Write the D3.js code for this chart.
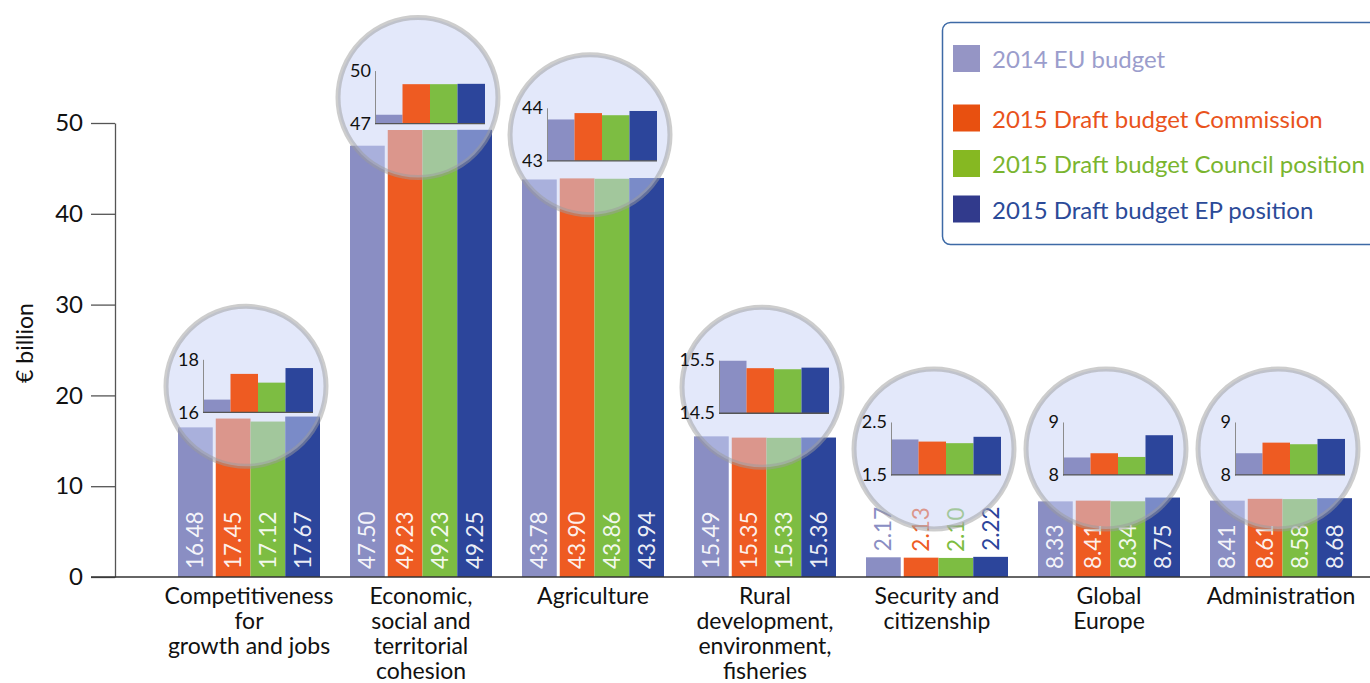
<!DOCTYPE html>
<html>
<head>
<meta charset="utf-8">
<script src="https://cdn.jsdelivr.net/npm/d3@7"></script>
<style>
  body { margin: 0; background: #fff; }
  svg { display: block; font-family: Lato, "Noto Sans", sans-serif; }
</style>
</head>
<body>
<script>
//
// DATA
//
var categories = [
    ["Competitiveness", "for", "growth and jobs"],
    ["Economic,", "social and", "territorial", "cohesion"],
    ["Agriculture"],
    ["Rural", "development,", "environment,", "fisheries"],
    ["Security and", "citizenship"],
    ["Global", "Europe"],
    ["Administration"]
];
var seriesNames = ["2014 EU budget", "2015 Draft budget Commission",
                   "2015 Draft budget Council position", "2015 Draft budget EP position"];
var budget2014 = [16.48, 47.50, 43.78, 15.49, 2.17, 8.33, 8.41];
var commission = [17.45, 49.23, 43.90, 15.35, 2.13, 8.41, 8.61];
var council    = [17.12, 49.23, 43.86, 15.33, 2.10, 8.34, 8.58];
var epPosition = [17.67, 49.25, 43.94, 15.36, 2.22, 8.75, 8.68];
var yTicks = [0, 10, 20, 30, 40, 50];
// zoomed insets: axis range shown in each magnifier
var insetLow  = [16, 47, 43, 14.5, 1.5, 8, 8];
var insetHigh = [18, 50, 44, 15.5, 2.5, 9, 9];

//
// LAYOUT / STYLE
//
var W = 1370, H = 683;
var barColors = ["#8a8ec3", "#ee5b22", "#7dbd42", "#2c459b"];
var keyColors = ["#9595c5", "#e85010", "#86b822", "#313a8c"];
var textColors = ["#9b9dcc", "#e9531c", "#7ab52f", "#2b4a98"];
// level (in € billion) at which each magnifier is centred
var insetLevel = [21.0, 52.8, 48.7, 20.9, 14.1, 14.1, 14.1];

var allSeries = [budget2014, commission, council, epPosition];
var rows = categories.map(function(c, i){
    return {
        i: i,
        lines: c,
        values: allSeries.map(function(s, k){ return {k: k, v: s[i]}; })
    };
});

var svg = d3.select("body").append("svg")
    .attr("width", W).attr("height", H);

var y = d3.scaleLinear().domain([0, 50]).range([577, 123]);
var x0 = d3.scaleBand().domain(d3.range(categories.length))
    .range([163, 1367]).paddingInner(30/172).paddingOuter(15/172);
var x1 = d3.scaleBand().domain(d3.range(4)).range([0, 139]);

function barX(i, k){ return x0(i) + x1(k) + (k > 0 ? 3 : 0); }

//
// BARS
//
var groups = svg.selectAll("g.grp").data(rows).enter().append("g").attr("class", "grp");

groups.selectAll("rect").data(function(d){ return d.values.map(function(v){ return {i: d.i, k: v.k, v: v.v}; }); })
    .enter().append("rect")
    .attr("x", function(d){ return barX(d.i, d.k); })
    .attr("y", function(d){ return y(d.v); })
    .attr("width", x1.bandwidth())
    .attr("height", function(d){ return y(0) - y(d.v); })
    .attr("fill", function(d){ return barColors[d.k]; });

// value labels, vertical
groups.selectAll("text.val").data(function(d){ return d.values.map(function(v){ return {i: d.i, k: v.k, v: v.v}; }); })
    .enter().append("text").attr("class", "val")
    .attr("transform", function(d){
        var cx = barX(d.i, d.k) + x1.bandwidth()/2 + 8;
        var inside = (y(0) - y(d.v)) > 70;
        var yy = inside ? 569 : y(d.v) - 6;
        return "translate(" + cx + "," + yy + ") rotate(-90)";
    })
    .attr("font-size", 22.5)
    .attr("fill", function(d){ return (y(0) - y(d.v)) > 70 ? "#fff" : barColors[d.k]; })
    .attr("fill-opacity", function(d){ return (y(0) - y(d.v)) > 70 ? 0.92 : 1; })
    .text(function(d){ return d.v.toFixed(2); });

//
// AXES
//
var yAxis = svg.append("g").attr("transform", "translate(115,0)")
    .call(d3.axisLeft(y).tickValues(yTicks).tickSize(24).tickSizeOuter(0).tickPadding(8));
yAxis.select(".domain").attr("stroke", "#555").attr("stroke-width", 1.3);
yAxis.selectAll(".tick line").attr("stroke", "#555").attr("stroke-width", 1.3);
yAxis.selectAll(".tick text").attr("font-size", 24).attr("fill", "#111")
    .attr("font-family", "Lato, sans-serif");

svg.append("line")
    .attr("x1", 91).attr("x2", W).attr("y1", y(0)).attr("y2", y(0))
    .attr("stroke", "#333").attr("stroke-width", 1.5);

svg.append("text")
    .attr("transform", "translate(33,343) rotate(-90)")
    .attr("text-anchor", "middle").attr("font-size", 23).attr("fill", "#111")
    .text("€ billion");

// category labels
var catText = svg.selectAll("text.cat").data(rows).enter().append("text")
    .attr("class", "cat")
    .attr("text-anchor", "middle").attr("font-size", 23).attr("fill", "#111");
catText.selectAll("tspan").data(function(d){ return d.lines.map(function(l){ return {l: l, i: d.i}; }); })
    .enter().append("tspan")
    .attr("x", function(d){ return x0(d.i) + x0.bandwidth()/2; })
    .attr("y", function(d, j){ return 604 + j * 25; })
    .text(function(d){ return d.l; });

//
// MAGNIFIER INSETS
//
rows.forEach(function(d){
    var i = d.i;
    var cx = x0(i) + x0.bandwidth()/2 - 3;
    var cy = y(insetLevel[i]);
    var g = svg.append("g").attr("class", "inset");

    g.append("circle")
        .attr("cx", cx).attr("cy", cy).attr("r", 80)
        .attr("fill", "#c8d2f6").attr("fill-opacity", 0.5)
        .attr("stroke", "#9b9b9b").attr("stroke-opacity", 0.5).attr("stroke-width", 5);

    var yi = d3.scaleLinear().domain([insetLow[i], insetHigh[i]]).range([cy + 26, cy - 27]);
    var xi = d3.scaleBand().domain(d3.range(4)).range([cx - 43, cx + 67]);

    g.selectAll("rect").data(d.values).enter().append("rect")
        .attr("x", function(v){ return xi(v.k); })
        .attr("y", function(v){ return yi(v.v); })
        .attr("width", xi.bandwidth())
        .attr("height", function(v){ return yi(insetLow[i]) - yi(v.v); })
        .attr("fill", function(v){ return barColors[v.k]; });

    var ax = g.append("g").attr("transform", "translate(" + (cx - 43) + ",0)")
        .call(d3.axisLeft(yi).tickValues([insetLow[i], insetHigh[i]])
              .tickSize(0).tickPadding(4).tickFormat(function(t){ return String(t); }));
    ax.select(".domain").attr("stroke", "#8c8c8c").attr("stroke-width", 1);
    ax.selectAll(".tick text").attr("font-size", 18).attr("fill", "#111")
        .attr("font-family", "Lato, sans-serif");

    g.append("line")
        .attr("x1", cx - 43).attr("x2", cx + 67)
        .attr("y1", yi(insetLow[i])).attr("y2", yi(insetLow[i]))
        .attr("stroke", "#555").attr("stroke-width", 1.3);
});

//
// LEGEND
//
var legend = svg.append("g");
legend.append("rect")
    .attr("x", 942.5).attr("y", 22.5).attr("width", 460).attr("height", 222)
    .attr("rx", 8).attr("fill", "#fff")
    .attr("stroke", "#3d6aa6").attr("stroke-width", 1.5);

var items = legend.selectAll("g.item").data(seriesNames).enter().append("g")
    .attr("class", "item")
    .attr("transform", function(d, k){ return "translate(953," + (45 + k * 45.5 + (k > 0 ? 14 : 0)) + ")"; });
items.append("rect").attr("width", 27).attr("height", 27)
    .attr("fill", function(d, k){ return keyColors[k]; });
items.append("text").attr("x", 39).attr("y", 23)
    .attr("font-size", 24)
    .attr("fill", function(d, k){ return textColors[k]; })
    .text(function(d){ return d; });
</script>
</body>
</html>
